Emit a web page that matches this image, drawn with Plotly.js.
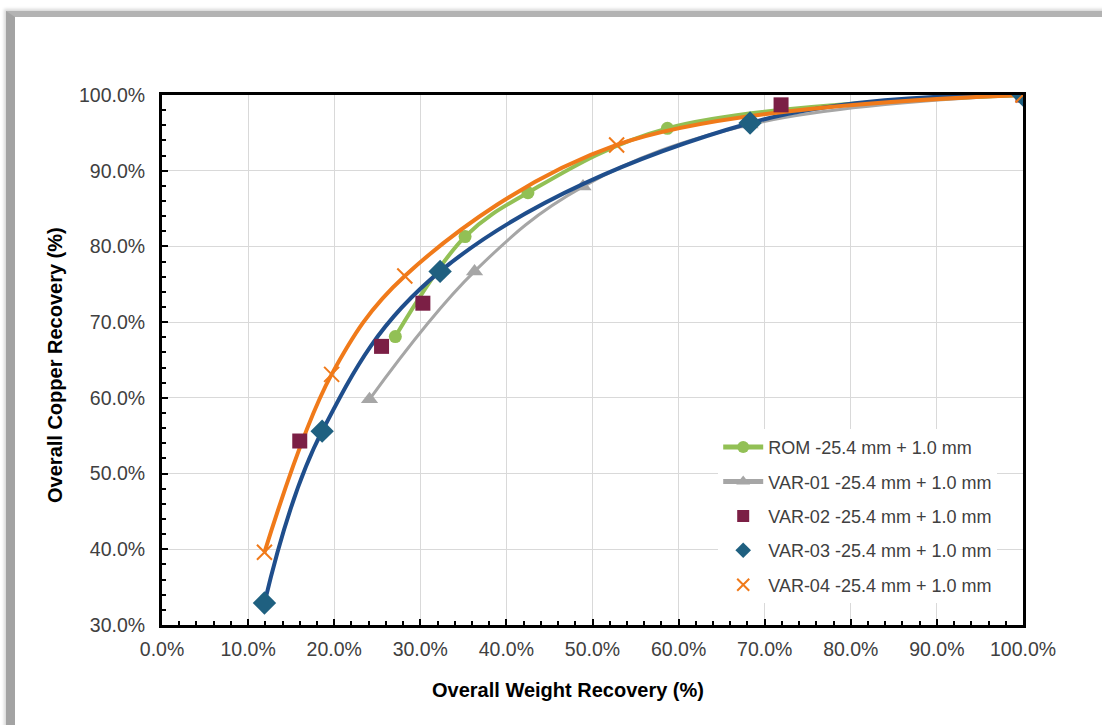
<!DOCTYPE html>
<html>
<head>
<meta charset="utf-8">
<script src="https://cdn.plot.ly/plotly-3.0.1.min.js"></script>
<style>
  html, body { margin: 0; padding: 0; background: #ffffff; overflow: hidden; }
  #frame { position: absolute; left: 6px; top: 11px; width: 1200px; height: 800px;
           border-left: 9px solid #a3a3a3; border-top: 6px solid #b3b3b3;
           box-shadow: -2px -2px 3px #d8d8d8; }
  #chart { position: absolute; left: 0; top: 0; width: 1102px; height: 725px; }
</style>
</head>
<body>
<div id="frame"></div>
<div id="chart"></div>
<script>
// ROM -25.4 mm + 1.0 mm
const romX = [27.1, 35.2, 42.5, 58.7, 100];
const romY = [68.1, 81.3, 87.1, 95.6, 100];
// VAR-01
const var01X = [24.1, 36.3, 48.9, 68.3, 100];
const var01Y = [59.8, 76.7, 87.9, 96.1, 100];
// VAR-02
const var02X = [16.0, 25.5, 30.3, 71.9, 100];
const var02Y = [54.3, 66.8, 72.5, 98.7, 100];
// VAR-03
const var03X = [11.9, 18.6, 32.3, 68.3, 100];
const var03Y = [32.9, 55.6, 76.7, 96.3, 100];
// VAR-04
const var04X = [11.9, 19.7, 28.2, 52.8, 100];
const var04Y = [39.6, 63.1, 76.1, 93.4, 100];

const names = [
  'ROM -25.4 mm + 1.0 mm',
  'VAR-01 -25.4 mm + 1.0 mm',
  'VAR-02 -25.4 mm + 1.0 mm',
  'VAR-03 -25.4 mm + 1.0 mm',
  'VAR-04 -25.4 mm + 1.0 mm'
];
const xTitle = 'Overall Weight Recovery (%)';
const yTitle = 'Overall Copper Recovery (%)';

const green = '#92c055', gray = '#a6a6a6', maroon = '#7b1f45',
      teal = '#1f6080', blue = '#1f4e8c', orange = '#f07a1a';

const traces = [
  { x: var01X, y: var01Y, name: names[1], mode: 'lines+markers', legendgroup: 'g2', legendrank: 2,
    line: { color: gray, width: 3, shape: 'spline', smoothing: 1.1 },
    marker: { symbol: 'triangle-up', size: 15, color: gray } },
  { x: romX, y: romY, name: names[0], mode: 'lines+markers', legendgroup: 'g1', legendrank: 1,
    line: { color: green, width: 4, shape: 'spline', smoothing: 1 },
    marker: { symbol: 'circle', size: 13, color: green } },
  { x: var03X, y: var03Y, mode: 'lines', showlegend: false, hoverinfo: 'skip',
    line: { color: blue, width: 4, shape: 'spline', smoothing: 1.1 } },
  { x: var04X, y: var04Y, mode: 'lines', showlegend: false, hoverinfo: 'skip',
    line: { color: orange, width: 4, shape: 'spline', smoothing: 1.0 } },
  { x: var02X, y: var02Y, name: names[2], mode: 'markers', legendgroup: 'g3', legendrank: 3,
    marker: { symbol: 'square', size: 15, color: maroon } },
  { x: var03X, y: var03Y, name: names[3], mode: 'markers', legendgroup: 'g4', legendrank: 4,
    marker: { symbol: 'diamond', size: 18, color: teal } },
  { x: var04X, y: var04Y, name: names[4], mode: 'markers', legendgroup: 'g5', legendrank: 5,
    marker: { symbol: 'x-thin-open', size: 15, color: orange, line: { color: orange, width: 2 } } }
];

const tickFont = { family: 'Liberation Sans, Arial, sans-serif', size: 19.5, color: '#404040' };
const titleFont = { family: 'Liberation Sans, Arial, sans-serif', size: 20, color: '#000000', weight: 'bold' };

const layout = {
  width: 1102, height: 725,
  margin: { l: 162, r: 79, t: 95, b: 100 },
  paper_bgcolor: 'rgba(0,0,0,0)',
  plot_bgcolor: '#ffffff',
  showlegend: true,
  xaxis: {
    range: [0, 100], dtick: 10, tickformat: '.1f', ticksuffix: '%',
    showgrid: true, gridcolor: '#d9d9d9', gridwidth: 1,
    showline: true, linecolor: '#000000', linewidth: 3, mirror: true,
    ticks: 'inside', ticklen: 6, tickwidth: 2, tickcolor: '#000000',
    minor: { dtick: 2, ticks: 'inside', ticklen: 4, tickwidth: 2, tickcolor: '#000000', showgrid: false },
    zeroline: false, tickfont: tickFont, ticklabelstandoff: 5
  },
  yaxis: {
    range: [30, 100], dtick: 10, tickformat: '.1f', ticksuffix: '%',
    showgrid: true, gridcolor: '#d9d9d9', gridwidth: 1,
    showline: true, linecolor: '#000000', linewidth: 3, mirror: true,
    ticks: 'inside', ticklen: 6, tickwidth: 2, tickcolor: '#000000',
    minor: { dtick: 2, ticks: 'inside', ticklen: 4, tickwidth: 2, tickcolor: '#000000', showgrid: false },
    zeroline: false, tickfont: tickFont, ticklabelstandoff: 10
  },
  annotations: [
    { text: xTitle, xref: 'paper', yref: 'paper', x: 0.4715, y: -0.1226,
      xanchor: 'center', yanchor: 'middle', showarrow: false, font: titleFont },
    { text: yTitle, xref: 'paper', yref: 'paper', x: -0.1243, y: 0.4906, textangle: -90,
      xanchor: 'center', yanchor: 'middle', showarrow: false, font: titleFont }
  ],
  legend: {
    x: 0.646, y: 0.37, xanchor: 'left', yanchor: 'top',
    bgcolor: '#ffffff', borderwidth: 0, itemsizing: 'constant',
    traceorder: 'grouped', tracegroupgap: 8, itemwidth: 40,
    font: { family: 'Liberation Sans, Arial, sans-serif', size: 18, color: '#404040' }
  }
};

Plotly.newPlot('chart', traces, layout, { displayModeBar: false, staticPlot: true });
</script>
</body>
</html>
